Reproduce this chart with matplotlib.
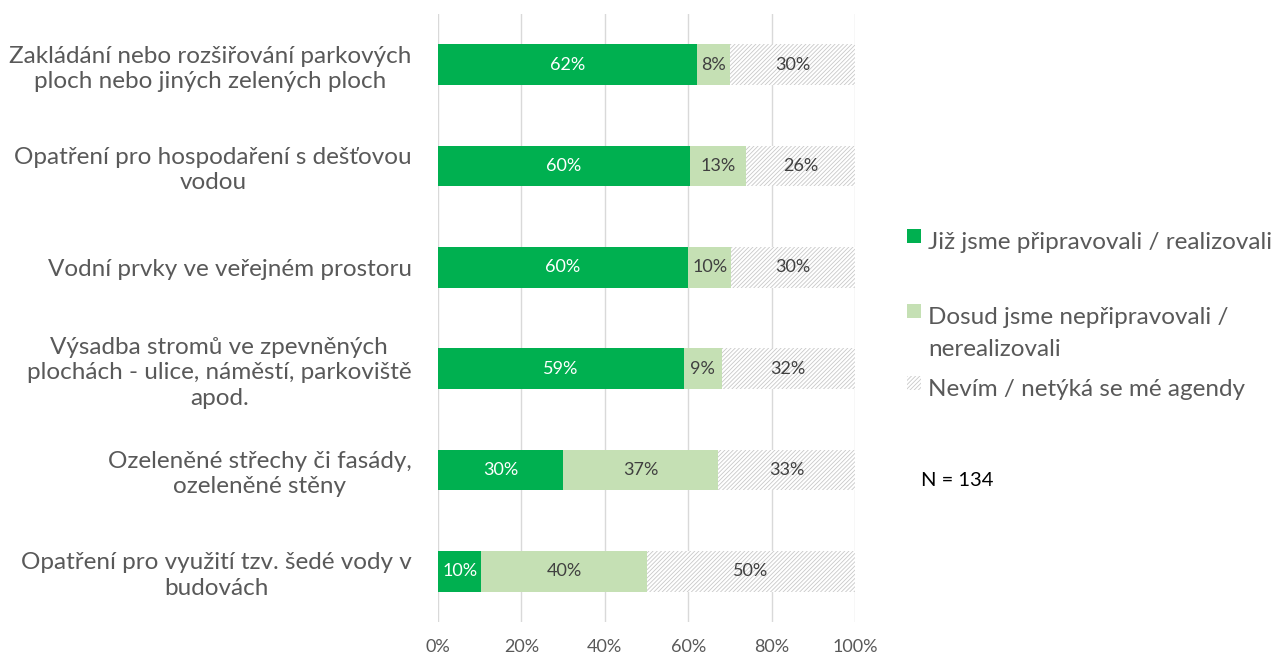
import matplotlib
matplotlib.use("Agg")
import matplotlib.pyplot as plt
from matplotlib.patches import Rectangle

plt.rcParams['font.family'] = ['Lato', 'DejaVu Sans']
plt.rcParams['hatch.linewidth'] = 0.6

categories = [
    "Zakládání nebo rozšiřování parkových\nploch nebo jiných zelených ploch",
    "Opatření pro hospodaření s dešťovou\nvodou",
    "Vodní prvky ve veřejném prostoru",
    "Výsadba stromů ve zpevněných\nplochách - ulice, náměstí, parkoviště\napod.",
    "Ozeleněné střechy či fasády,\nozeleněné stěny",
    "Opatření pro využití tzv. šedé vody v\nbudovách",
]
done = [62.0, 60.4, 60.0, 59.0, 29.9, 10.4]
not_yet = [8.0, 13.4, 10.3, 9.0, 37.3, 39.6]
dont_know = [30.0, 26.2, 29.7, 32.0, 32.8, 50.0]
series_names = ["Již jsme připravovali / realizovali",
                "Dosud jsme nepřipravovali /\nnerealizovali",
                "Nevím / netýká se mé agendy"]
ticks = [0, 20, 40, 60, 80, 100]

GREEN = "#00b050"
LIGHT = "#c5e0b4"
TXT = "#595959"
HATCH = "#c8c8c8"

fig = plt.figure(figsize=(12.77, 6.57), dpi=100)
ax = fig.add_axes([438/1277, 1-622/657, 417/1277, 608/657])

y = list(range(len(categories)))
h = 0.4
ax.barh(y, done, height=h, color=GREEN, zorder=2)
left2 = [a for a in done]
ax.barh(y, not_yet, left=left2, height=h, color=LIGHT, zorder=2)
left3 = [a + b for a, b in zip(done, not_yet)]
ax.barh(y, dont_know, left=left3, height=h, color="white", edgecolor=HATCH,
        hatch="////////", linewidth=0, zorder=2)

for i in y:
    ax.text(done[i]/2, i, f"{done[i]:.0f}%", ha="center", va="center",
            color="white", fontsize=13, zorder=3)
    ax.text(left2[i] + not_yet[i]/2, i, f"{not_yet[i]:.0f}%", ha="center",
            va="center", color="#404040", fontsize=13, zorder=3)
    ax.text(left3[i] + dont_know[i]/2, i, f"{dont_know[i]:.0f}%", ha="center",
            va="center", color="#404040", fontsize=13, zorder=3)

ax.set_xlim(0, 100)
ax.set_ylim(5.5, -0.5)
ax.set_xticks(ticks)
ax.set_xticklabels([f"{t}%" for t in ticks], fontsize=13, color=TXT)
ax.xaxis.grid(True, color="#d9d9d9", linewidth=1, zorder=0)
ax.set_axisbelow(True)
ax.tick_params(axis="x", length=0, pad=12)
ax.tick_params(axis="y", length=0, pad=19)
ax.set_yticks(y)
ax.set_yticklabels(categories, fontsize=17.5, color=TXT, linespacing=1.25)
for lbl in ax.get_yticklabels():
    lbl.set_horizontalalignment("right")
    lbl.set_multialignment("center")
for s in ax.spines.values():
    s.set_visible(False)

# legend drawn by hand
W, H = 1277, 657
def sq(px, py, **kw):
    fig.patches.append(Rectangle((px/W, 1-(py+7)/H), 14/W, 14/H,
                                 transform=fig.transFigure, **kw))
sq(907, 236, facecolor=GREEN, edgecolor="none")
sq(907, 311, facecolor=LIGHT, edgecolor="none")
sq(907, 383, facecolor="white", edgecolor=HATCH, hatch="////////", linewidth=0)
fig.text(928/W, 1-243/H, series_names[0], fontsize=17.5, color=TXT, va="center")
l1, l2 = series_names[1].split("\n")
fig.text(928/W, 1-318/H, l1, fontsize=17.5, color=TXT, va="center")
fig.text(928/W, 1-350/H, l2, fontsize=17.5, color=TXT, va="center")
fig.text(928/W, 1-390/H, series_names[2], fontsize=17.5, color=TXT, va="center")
fig.text(921/W, 1-480/H, "N = 134", fontsize=14.5, color="black", va="center")

fig.savefig("out.png", dpi=100)
